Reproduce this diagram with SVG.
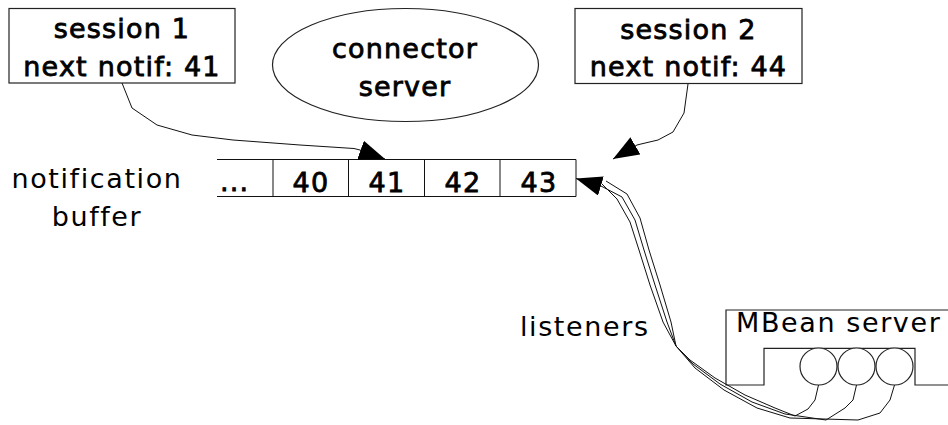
<svg xmlns="http://www.w3.org/2000/svg" width="948" height="425" viewBox="0 0 948 425">
  <style>
    .lbl { font-family: "DejaVu Sans", "Liberation Sans", sans-serif; font-size: 27px; letter-spacing: 1.6px; fill: #000; }
    .heavy { stroke: #000; stroke-width: 0.8px; letter-spacing: 1.2px; }
    .mid { text-anchor: middle; }
    .box { fill: #fff; stroke: #222; stroke-width: 1.2; }
    .wire { fill: none; stroke: #111; stroke-width: 1; stroke-linejoin: round; }
  </style>
  <defs>
    <marker id="head" markerUnits="userSpaceOnUse" markerWidth="30" markerHeight="24" refX="26" refY="10" orient="auto">
      <path d="M0,0 L26,10 L0,20 Z" fill="#000"/>
    </marker>
  </defs>
  <rect width="948" height="425" fill="#fff"/>

  <!-- session 1 -->
  <g id="session1">
    <rect class="box" x="9" y="8.5" width="226" height="74.5"/>
    <text class="lbl heavy mid" x="122" y="38">session 1</text>
    <text class="lbl heavy mid" x="122" y="76">next notif: 41</text>
  </g>

  <!-- connector server -->
  <g id="connector-server">
    <ellipse class="box" cx="405.5" cy="65" rx="133" ry="56.5"/>
    <text class="lbl heavy mid" x="405" y="58">connector</text>
    <text class="lbl heavy mid" x="405" y="95.5">server</text>
  </g>

  <!-- session 2 -->
  <g id="session2">
    <rect class="box" x="575" y="8.5" width="227" height="75"/>
    <text class="lbl heavy mid" x="688.5" y="38.5">session 2</text>
    <text class="lbl heavy mid" x="688.5" y="75.5">next notif: 44</text>
  </g>

  <!-- notification buffer -->
  <g id="buffer-label">
    <text class="lbl mid" x="97" y="188">notification</text>
    <text class="lbl mid" x="97" y="226">buffer</text>
  </g>
  <g id="buffer">
    <path class="wire" d="M217,159.5 H576 M217,196.5 H576 M273,159.5 V196.5 M348.5,159.5 V196.5 M424.5,159.5 V196.5 M500,159.5 V196.5 M576,159.5 V196.5" stroke="#222" stroke-width="1.2"/>
    <text class="lbl heavy" x="220" y="191">...</text>
    <text class="lbl heavy mid" x="311" y="191.5">40</text>
    <text class="lbl heavy mid" x="387" y="191.5">41</text>
    <text class="lbl heavy mid" x="463" y="191.5">42</text>
    <text class="lbl heavy mid" x="539" y="191.5">43</text>
  </g>

  <!-- MBean server with its registered listeners -->
  <g id="mbean-server">
    <path class="box" d="M960,310 H726 V385 H764 V348.3 H915 V385 H960"/>
    <text class="lbl" x="736" y="331.5">MBean server</text>
    <circle class="box" cx="818.5" cy="366.5" r="18.5"/>
    <circle class="box" cx="856.5" cy="366.5" r="18.5"/>
    <circle class="box" cx="894.5" cy="366.5" r="18.5"/>
  </g>

  <g id="listeners-label">
    <text class="lbl" x="520" y="336">listeners</text>
  </g>

  <!-- connectors -->
  <g id="connectors">
    <path class="wire" d="M122,83 L132,108 L157,125 L192,135 L233,140 L300,145 L354,148.5 L360,150 L385,159" marker-end="url(#head)"/>
    <path class="wire" d="M688,84 L684,113 L673,132 L658,140 L641,144 L637,145 L613,159" marker-end="url(#head)"/>
    <path class="wire" d="M818.5,385 L815,400 L808,409 L795,416 L775,408 L745,395 L715,378 L690,360 L676,346 L663,322 L650,285 L639,250 L630,222 L617,199 L602,184"/>
    <path class="wire" d="M856.5,385 L853,400 L845,408 L826,420 L785,414 L752,402 L720,384 L693,364 L676,346 L667,322 L655,285 L644,250 L635,220 L622,197 L601,186 L576,178.5" marker-end="url(#head)"/>
    <path class="wire" d="M894.5,385 L890,400 L880,413 L858,420 L790,418 L757,408 L724,390 L695,368 L676,346 L671,322 L660,285 L649,250 L640,218 L627,194 L606,181"/>
  </g>
</svg>
